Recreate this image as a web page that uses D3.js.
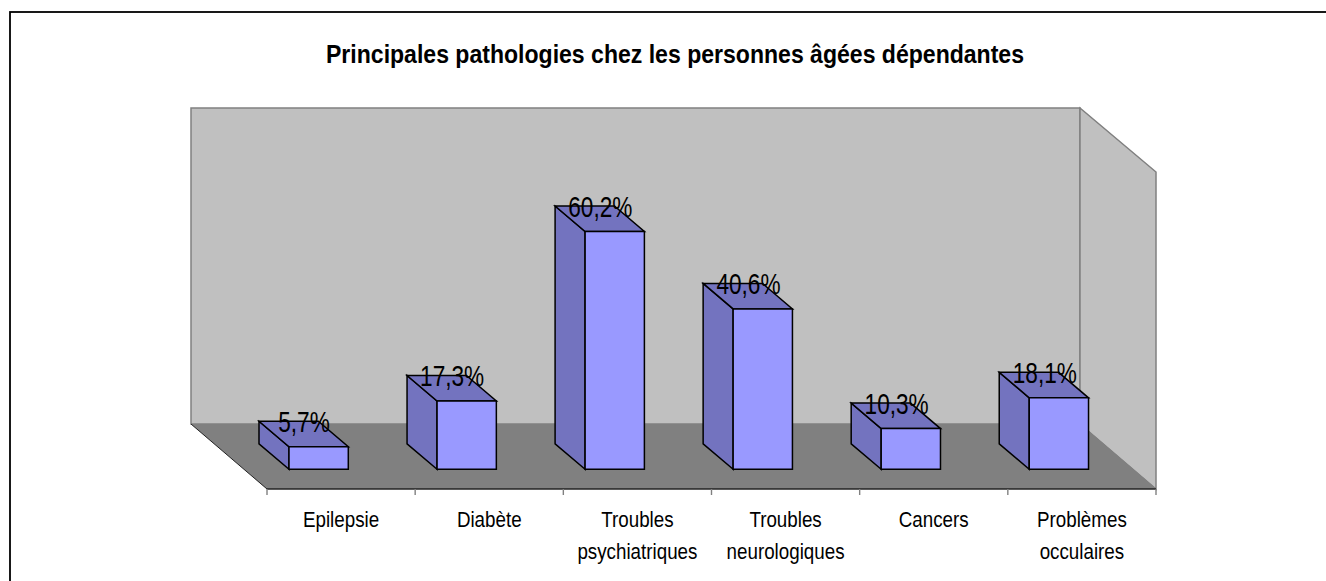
<!DOCTYPE html>
<html><head><meta charset="utf-8">
<script src="https://cdn.jsdelivr.net/npm/d3@7"></script>
<style>html,body{margin:0;padding:0;background:#fff;overflow:hidden}svg{display:block}text{font-family:"Liberation Sans",Arial,sans-serif;fill:#000}</style>
</head><body><svg id="c" width="1326" height="581"></svg>
<script>
const categories = [["Epilepsie"],["Diabète"],["Troubles","psychiatriques"],["Troubles","neurologiques"],["Cancers"],["Problèmes","occulaires"]];
const values = [5.7,17.3,60.2,40.6,10.3,18.1];
const labels = ["5,7%","17,3%","60,2%","40,6%","10,3%","18,1%"];
const titleText = "Principales pathologies chez les personnes âgées dépendantes";

const svg = d3.select("#c");
const x = d3.scaleBand().domain(d3.range(categories.length)).range([267,1156]);
const floorY = 489, depthX = 76, depthY = 65;
const y = d3.scaleLinear().domain([0,80]).range([0,316]);
const line = d3.line();
const poly = (pts,fill,stroke,sw)=>svg.append("path").attr("d",line(pts)+"Z").attr("fill",fill).attr("stroke",stroke||"none").attr("stroke-width",sw||1);

// outer frame: top and left edges are visible, the rest runs off the page
svg.append("rect").attr("x",10).attr("y",12).attr("width",1400).attr("height",700).attr("fill","#fff").attr("stroke","#000").attr("stroke-width",1.8);

svg.append("text").attr("x",675).attr("y",63).attr("text-anchor","middle").attr("font-weight","bold").attr("font-size",26)
  .attr("textLength",698).attr("lengthAdjust","spacingAndGlyphs").text(titleText);

const x0=x.range()[0], x1=x.range()[1];
const bl=x0-depthX, br=x1-depthX, by=floorY-depthY, tw=by-y.range()[1];
poly([[bl,tw],[br,tw],[br,by],[bl,by]],"#c0c0c0","#808080",1.5);
poly([[br,tw],[x1,tw+depthY-1],[x1,floorY],[br,by]],"#c0c0c0","#808080",1.5);
poly([[bl,by],[br,by],[x1,floorY],[x0,floorY]],"#808080");
svg.append("path").attr("d",line([[bl,by],[x0,floorY]])).attr("stroke","#222").attr("fill","none");
svg.append("path").attr("d",line([[br,by],[x1,floorY]])).attr("stroke","#808080").attr("fill","none");
svg.append("path").attr("d",line([[x0,floorY],[x1,floorY]])).attr("stroke","#222").attr("stroke-width",1.5).attr("fill","none");
d3.range(categories.length+1).forEach(i=>{
  const tx=x0+i*x.step();
  svg.append("line").attr("x1",tx).attr("x2",tx).attr("y1",floorY).attr("y2",floorY+6).attr("stroke","#808080").attr("stroke-width",1.4);
});

const bw=59.3, dx=30, dy=25.5, barInset=22, barY=469.3;
values.forEach((v,i)=>{
  const l=x(i)+barInset-i*0.12, r=l+bw, h=y(v), t=barY-h;
  poly([[l,barY],[l-dx,barY-dy],[l-dx,t-dy],[l,t]],"#7373bf","#000",1.5);
  poly([[l-dx,t-dy],[r-dx,t-dy],[r,t],[l,t]],"#7373bf","#000",1.5);
  poly([[l,t],[r,t],[r,barY],[l,barY]],"#9999ff","#000",1.5);
});
values.forEach((v,i)=>{
  const l=x(i)+barInset, t=barY-y(v);
  svg.append("text").attr("x",l+15).attr("y",t-15).attr("text-anchor","middle").attr("font-size",29)
    .attr("transform-origin",`${l+15} ${t-15}`).attr("transform","scale(0.78,1)").text(labels[i]);
});
categories.forEach((c,i)=>{
  const cx=x(i)+x.step()/2;
  c.forEach((s,j)=>{
    svg.append("text").attr("x",cx).attr("y",527+j*32).attr("text-anchor","middle").attr("font-size",22.5)
     .attr("transform-origin",`${cx} 0`).attr("transform","scale(0.835,1)").text(s);
  });
});
</script></body></html>
